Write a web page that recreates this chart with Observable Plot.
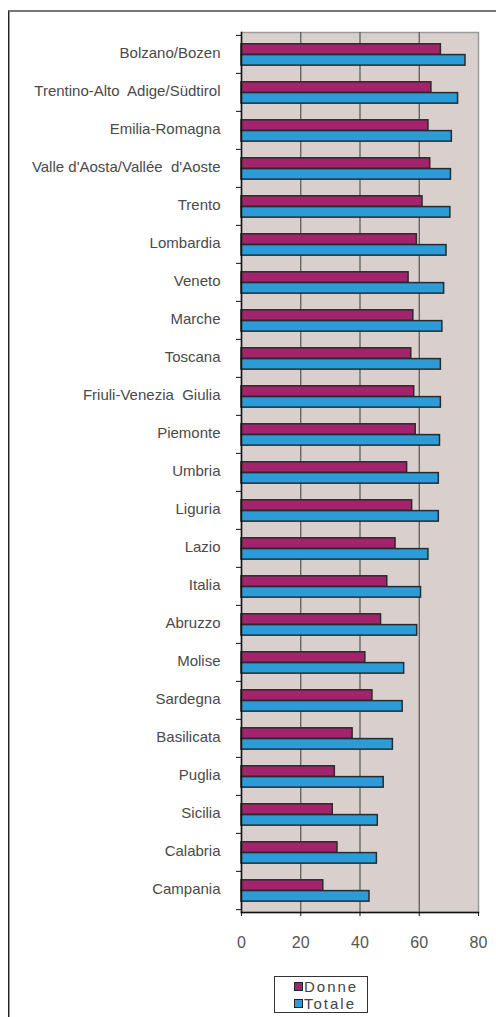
<!DOCTYPE html>
<html>
<head>
<meta charset="utf-8">
<script src="https://cdn.jsdelivr.net/npm/d3@7"></script>
<script src="https://cdn.jsdelivr.net/npm/@observablehq/plot@0.6"></script>
<style>
  html, body { margin: 0; padding: 0; background: #fff; width: 496px; height: 1017px; overflow: hidden; }
  #frame { position: absolute; left: 8px; top: 10px; width: 600px; height: 1100px;
           border-left: 1px solid #222; border-top: 2px solid #777; box-shadow: inset 1px 0 0 #999; }
  #chart { position: absolute; left: 0; top: 0; }
  #chart svg text { white-space: pre; }
  #legend { position: absolute; left: 274px; top: 976px; width: 92px; height: 35px;
            border: 1px solid #333; background: #fff;
            font-family: 'Liberation Sans', Arial, sans-serif; font-size: 15px; color: #444; }
  .item { position: absolute; left: 19px; height: 17px; line-height: 17px; letter-spacing: 2px; }
  .sw { display: inline-block; width: 7px; height: 7px; border: 1px solid #222; margin-right: 1px; vertical-align: 1px; }
</style>
</head>
<body>
<div id="frame"></div>
<div id="chart"></div>
<div id="legend"></div>
<script>
const regions = ["Bolzano/Bozen","Trentino-Alto  Adige/Südtirol","Emilia-Romagna","Valle d'Aosta/Vallée  d'Aoste","Trento","Lombardia","Veneto","Marche","Toscana","Friuli-Venezia  Giulia","Piemonte","Umbria","Liguria","Lazio","Italia","Abruzzo","Molise","Sardegna","Basilicata","Puglia","Sicilia","Calabria","Campania"];
const donne = [67.3,64.1,63.1,63.7,61.1,59.2,56.4,58.0,57.3,58.3,58.8,55.9,57.6,52.0,49.2,47.1,41.8,44.2,37.5,31.5,30.8,32.4,27.6];
const totale = [75.6,73.1,71.0,70.7,70.5,69.2,68.4,67.8,67.3,67.3,67.0,66.6,66.6,63.1,60.6,59.3,54.9,54.4,51.1,48.0,46.0,45.7,43.2];
const series = ["Donne", "Totale"];
const colors = ["#a3246c", "#2b9cd8"];
const xTicks = [0, 20, 40, 60, 80];

const rows = regions.map((r, i) => ({region: r, donne: donne[i], totale: totale[i]}));

const marginTop = 32, marginBottom = 48, H = 960;
const bw = (H - marginTop - marginBottom) / regions.length;

const chart = Plot.plot({
  width: 496,
  height: H,
  marginLeft: 241,
  marginRight: 18,
  marginTop,
  marginBottom,
  style: {fontFamily: "'Liberation Sans', Arial, sans-serif", background: "transparent", overflow: "visible"},
  x: {domain: [xTicks[0], xTicks[xTicks.length - 1]], label: null},
  y: {domain: regions, padding: 0, label: null},
  marks: [
    Plot.frame({fill: "#d9d0ce", stroke: "#9a9a9a", strokeWidth: 1.5}),
    Plot.ruleX(xTicks.slice(1, -1), {stroke: "#555", strokeWidth: 1.2}),
    Plot.barX(rows, {x: "donne", y: "region", fill: colors[0], stroke: "#2a2a2a", strokeWidth: 1.5, insetTop: 8.8, insetBottom: bw - 8.8 - 10.8}),
    Plot.barX(rows, {x: "totale", y: "region", fill: colors[1], stroke: "#2a2a2a", strokeWidth: 1.5, insetTop: 19.6, insetBottom: bw - 19.6 - 10.8}),
    Plot.frame({anchor: "left", stroke: "#111", strokeWidth: 1.5}),
    Plot.frame({anchor: "bottom", stroke: "#111", strokeWidth: 1.5}),
    Plot.axisY({tickSize: 0, tickPadding: 21, fontSize: 15, fill: "#4a4a4a", dy: -1.5}),
    Plot.axisY({tickSize: 5, text: null, dy: -bw / 2, stroke: "#111"}),
    Plot.axisY({ticks: [regions[regions.length - 1]], tickSize: 5, text: null, dy: bw / 2, stroke: "#111"}),
    Plot.axisX({ticks: xTicks, tickSize: 4, tickPadding: 20, fontSize: 16, fill: "#555", stroke: "#111"})
  ]
});
document.getElementById("chart").appendChild(chart);

const legend = document.getElementById("legend");
series.forEach((s, i) => {
  const d = document.createElement("div");
  d.className = "item";
  d.style.top = (1 + i * 17) + "px";
  d.innerHTML = `<span class="sw" style="background:${colors[i]}"></span>${s}`;
  legend.appendChild(d);
});
</script>
</body>
</html>
